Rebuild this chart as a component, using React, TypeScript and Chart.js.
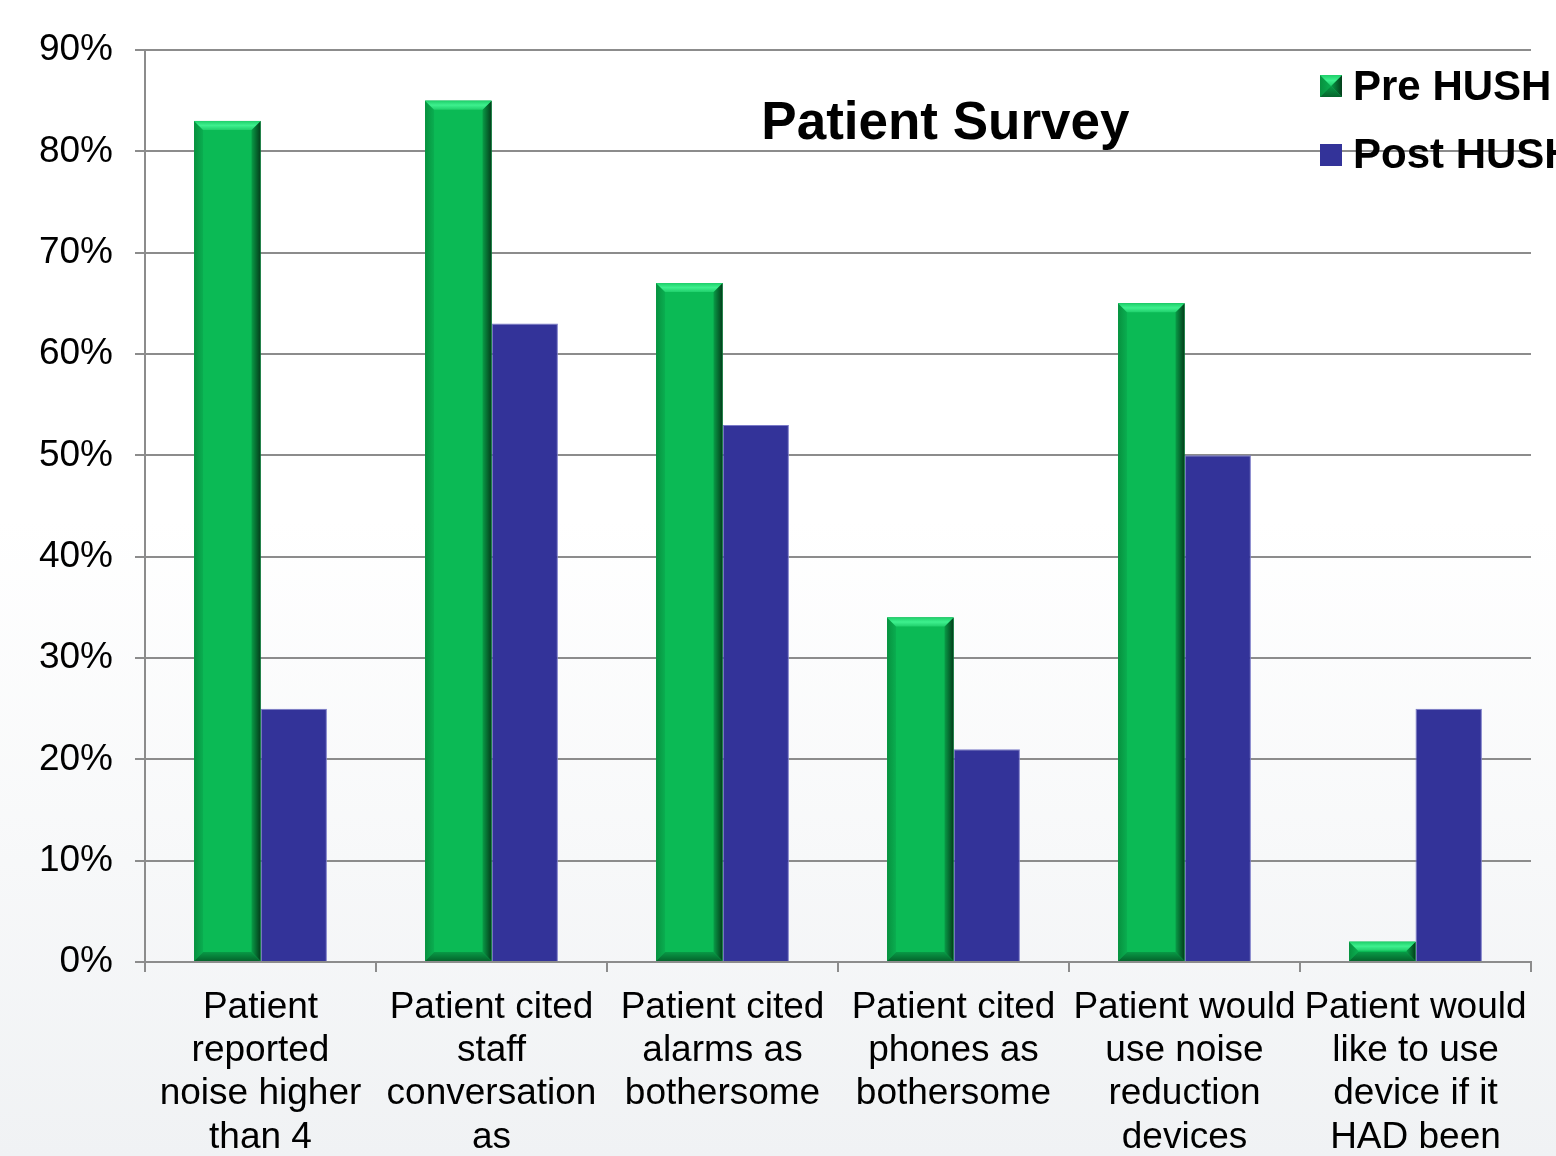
import React, { useEffect, useRef } from "react";
import { Chart, registerables } from "chart.js";

Chart.register(...registerables);

const categories: string[][] = [
  ["Patient", "reported", "noise higher", "than 4"],
  ["Patient cited", "staff", "conversation", "as"],
  ["Patient cited", "alarms as", "bothersome"],
  ["Patient cited", "phones as", "bothersome"],
  ["Patient would", "use noise", "reduction", "devices"],
  ["Patient would", "like to use", "device if it", "HAD been"],
];
const preHush = [83, 85, 67, 34, 65, 2];
const postHush = [25, 63, 53, 21, 50, 25];
const seriesNames = ["Pre HUSH", "Post HUSH"];
const chartTitle = "Patient Survey";

const GREEN = "#0bba55";
const BLUE = "#333399";
const FONT = "'Liberation Sans', Arial, sans-serif";

function drawBevel(ctx: CanvasRenderingContext2D, left: number, top: number, right: number, bottom: number, bMax: number) {
  const h = bottom - top;
  const w = right - left;
  const b = Math.max(0, Math.min(bMax, h / 2, w / 2));
  ctx.save();
  ctx.fillStyle = GREEN;
  ctx.fillRect(left, top, w, h);
  let g = ctx.createLinearGradient(left, 0, left + b, 0);
  g.addColorStop(0, "#07913f");
  g.addColorStop(1, "#0aae50");
  ctx.fillStyle = g;
  ctx.beginPath();
  ctx.moveTo(left, top);
  ctx.lineTo(left + b, top + b);
  ctx.lineTo(left + b, bottom - b);
  ctx.lineTo(left, bottom);
  ctx.closePath();
  ctx.fill();
  g = ctx.createLinearGradient(right - b, 0, right, 0);
  g.addColorStop(0, "#099c47");
  g.addColorStop(1, "#033d1a");
  ctx.fillStyle = g;
  ctx.beginPath();
  ctx.moveTo(right, top);
  ctx.lineTo(right - b, top + b);
  ctx.lineTo(right - b, bottom - b);
  ctx.lineTo(right, bottom);
  ctx.closePath();
  ctx.fill();
  g = ctx.createLinearGradient(0, top, 0, top + b);
  g.addColorStop(0, "#1fcf6a");
  g.addColorStop(0.5, "#3ef08e");
  g.addColorStop(1, "#20d06c");
  ctx.fillStyle = g;
  ctx.beginPath();
  ctx.moveTo(left, top);
  ctx.lineTo(right, top);
  ctx.lineTo(right - b, top + b);
  ctx.lineTo(left + b, top + b);
  ctx.closePath();
  ctx.fill();
  g = ctx.createLinearGradient(0, bottom - b, 0, bottom);
  g.addColorStop(0, "#089a46");
  g.addColorStop(1, "#05642c");
  ctx.fillStyle = g;
  ctx.beginPath();
  ctx.moveTo(left, bottom);
  ctx.lineTo(right, bottom);
  ctx.lineTo(right - b, bottom - b);
  ctx.lineTo(left + b, bottom - b);
  ctx.closePath();
  ctx.fill();
  ctx.restore();
}

const bevelPlugin = {
  id: "bevel",
  afterDatasetsDraw(chart: any) {
    const meta = chart.getDatasetMeta(0);
    const ctx = chart.ctx;
    meta.data.forEach((el: any) => {
      const p = el.getProps(["x", "y", "base", "width"], true);
      drawBevel(ctx, p.x - p.width / 2, Math.min(p.y, p.base), p.x + p.width / 2, Math.max(p.y, p.base), 9);
    });
  },
};

const overlayPlugin = {
  id: "overlay",
  afterDraw(chart: any) {
    const ctx = chart.ctx;
    const a = chart.chartArea;
    ctx.save();
    ctx.fillStyle = "#000";
    ctx.font = `bold 53px ${FONT}`;
    ctx.textAlign = "center";
    ctx.textBaseline = "middle";
    ctx.fillText(chartTitle, a.left + (a.right - a.left) * 0.5775, 124);
    const lx = a.right - 211;
    const rows = [87, 155];
    ctx.font = `bold 42px ${FONT}`;
    ctx.textAlign = "left";
    rows.forEach((ry, i) => {
      if (i === 0) {
        drawBevel(ctx, lx, ry - 12, lx + 22, ry + 10, 11);
      } else {
        ctx.fillStyle = BLUE;
        ctx.fillRect(lx, ry - 11, 22, 22);
      }
      ctx.fillStyle = "#000";
      ctx.fillText(seriesNames[i], lx + 33, ry + 1);
    });
    ctx.restore();
  },
};

export default function App() {
  const ref = useRef<HTMLCanvasElement | null>(null);
  useEffect(() => {
    if (!ref.current) return;
    const chart = new Chart(ref.current, {
      type: "bar",
      data: {
        labels: categories,
        datasets: [
          {
            label: seriesNames[0],
            data: preHush,
            backgroundColor: GREEN,
            borderWidth: 0,
            barPercentage: 1,
            categoryPercentage: 0.575,
          },
          {
            label: seriesNames[1],
            data: postHush,
            backgroundColor: BLUE,
            borderColor: "#7a7ac8",
            borderWidth: 1,
            barPercentage: 1,
            categoryPercentage: 0.575,
          },
        ],
      },
      plugins: [bevelPlugin, overlayPlugin],
      options: {
        animation: false,
        responsive: false,
        devicePixelRatio: 1,
        layout: { padding: { top: 50, right: 25, left: 0, bottom: 0 } },
        plugins: {
          legend: { display: false },
          title: { display: false },
          tooltip: { enabled: false },
        },
        scales: {
          x: {
            grid: {
              display: true,
              drawOnChartArea: false,
              drawTicks: true,
              tickLength: 10,
              color: "#8c8c8c",
              lineWidth: 2,
            },
            border: { display: true, color: "#8c8c8c", width: 2 },
            ticks: {
              color: "#000",
              font: { family: FONT, size: 37, lineHeight: 1.17 },
              maxRotation: 0,
              minRotation: 0,
              autoSkip: false,
              padding: 14,
            },
            afterFit(scale: any) {
              scale.height = 194;
            },
          },
          y: {
            min: 0,
            max: 90,
            ticks: {
              stepSize: 10,
              color: "#000",
              font: { family: FONT, size: 37 },
              padding: 22,
              callback: (v: any) => `${v}%`,
            },
            grid: { color: "#8c8c8c", lineWidth: 2, tickLength: 10 },
            border: { display: true, color: "#8c8c8c", width: 2 },
            afterFit(scale: any) {
              scale.width = 145;
            },
          },
        },
      },
    });
    return () => chart.destroy();
  }, []);
  return (
    <div
      style={{
        position: "absolute",
        left: 0,
        top: 0,
        width: 1556,
        height: 1156,
        overflow: "hidden",
        background: "linear-gradient(to bottom, #ffffff 0%, #ffffff 45%, #f0f2f4 100%)",
      }}
    >
      <canvas ref={ref} width={1556} height={1156} style={{ display: "block" }} />
    </div>
  );
}
